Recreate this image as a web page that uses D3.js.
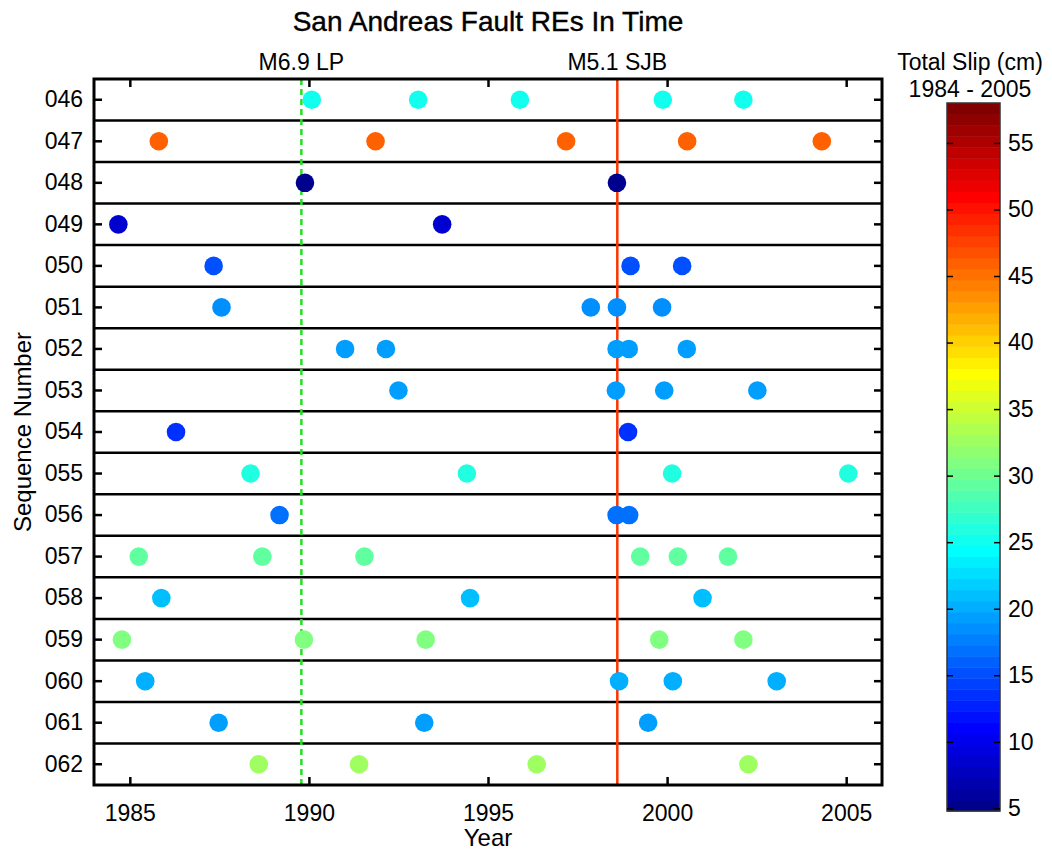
<!DOCTYPE html>
<html>
<head>
<meta charset="utf-8">
<script src="https://cdn.jsdelivr.net/npm/d3@7"></script>
<style>
  body { margin: 0; background: #fff; }
  text { font-family: "Liberation Sans", Arial, Helvetica, sans-serif; fill: #000; }
</style>
</head>
<body>
<svg width="1052" height="856"></svg>
<script>
// sequence ids, top to bottom
const seqIds = ['046','047','048','049','050','051','052','053','054','055','056','057','058','059','060','061','062'];

// total slip (cm) 1984 - 2005, one per sequence
const seqSlip = [24.8, 46.0, 5.6, 8.8, 15.6, 18.8, 19.0, 19.0, 13.8, 25.6, 17.2, 29.4, 21.4, 31.2, 20.0, 19.5, 32.8];

// repeating event times (decimal year) per sequence
const seqYears = [
  [1990.08, 1993.05, 1995.89, 1999.88, 2002.13],
  [1985.81, 1991.86, 1997.18, 2000.56, 2004.32],
  [1989.89, 1998.60],
  [1984.68, 1993.72],
  [1987.34, 1998.98, 2000.42],
  [1987.56, 1997.87, 1998.60, 1999.86],
  [1991.01, 1992.15, 1998.59, 1998.93, 2000.55],
  [1992.50, 1998.57, 1999.92, 2002.52],
  [1986.29, 1998.91],
  [1988.37, 1994.41, 2000.14, 2005.06],
  [1989.18, 1998.59, 1998.94],
  [1985.25, 1988.70, 1991.55, 1999.25, 2000.30, 2001.70],
  [1985.88, 1994.50, 2000.99],
  [1984.78, 1989.86, 1993.26, 1999.78, 2002.13],
  [1985.43, 1998.66, 2000.16, 2003.06],
  [1987.48, 1993.22, 1999.47],
  [1988.60, 1991.40, 1996.36, 2002.27]
];

// earthquakes marked on the plot
const quakeNames = ['M6.9 LP', 'M5.1 SJB'];
const quakeYears = [1989.79, 1998.61];

const yearTicks = [1985, 1990, 1995, 2000, 2005];
const slipTicks = [5, 10, 15, 20, 25, 30, 35, 40, 45, 50, 55];
const slipRange = [4.8, 58];

const svg = d3.select('svg');

const pLeft = 94, pRight = 882, pTop = 79, pBottom = 785;

const x = d3.scaleLinear().domain([1984, 2006]).range([pLeft, pRight]);
const y = d3.scaleBand().domain(seqIds).range([pTop, pBottom]).padding(0);

// matlab jet(64)
const nColors = 64;
const jetU = [];
for (let i = 1; i <= 16; i++) jetU.push(i / 16);
for (let i = 0; i < 15; i++) jetU.push(1);
for (let i = 16; i >= 1; i--) jetU.push(i / 16);
const uAt = j => (j >= 1 && j <= jetU.length) ? jetU[j - 1] : 0;
const jetColors = d3.range(1, nColors + 1).map(k =>
  d3.rgb(uAt(k - 24) * 255, uAt(k - 8) * 255, uAt(k + 8) * 255).toString());

const colorIndex = v => {
  let i = Math.floor((v - slipRange[0]) / (slipRange[1] - slipRange[0]) * nColors);
  return Math.max(0, Math.min(nColors - 1, i));
};
const color = v => jetColors[colorIndex(v)];

// title
svg.append('text')
  .attr('x', (pLeft + pRight) / 2).attr('y', 31)
  .attr('text-anchor', 'middle')
  .style('font-size', '28px')
  .style('stroke', '#000').style('stroke-width', 0.4)
  .text('San Andreas Fault REs In Time');

// row separators
const plot = svg.append('g');
plot.selectAll('line.sep')
  .data(seqIds.slice(1))
  .join('line')
  .attr('class', 'sep')
  .attr('x1', pLeft).attr('x2', pRight)
  .attr('y1', d => y(d)).attr('y2', d => y(d))
  .attr('stroke', '#000').attr('stroke-width', 2.5);

// quake lines
plot.append('line')
  .attr('x1', x(quakeYears[0])).attr('x2', x(quakeYears[0]))
  .attr('y1', pTop).attr('y2', pBottom)
  .attr('stroke', '#22e022').attr('stroke-width', 2.5)
  .attr('stroke-dasharray', '6,4');
plot.append('line')
  .attr('x1', x(quakeYears[1])).attr('x2', x(quakeYears[1]))
  .attr('y1', pTop).attr('y2', pBottom)
  .attr('stroke', '#ff3300').attr('stroke-width', 2.5);

svg.selectAll('text.quake')
  .data(quakeNames)
  .join('text')
  .attr('class', 'quake')
  .attr('x', (d, i) => x(quakeYears[i]))
  .attr('y', 70)
  .attr('text-anchor', 'middle')
  .style('font-size', '23px')
  .text(d => d);

// events
const rows = plot.selectAll('g.row')
  .data(seqIds)
  .join('g')
  .attr('class', 'row')
  .attr('transform', d => `translate(0,${y(d) + y.bandwidth() / 2})`);

rows.selectAll('circle')
  .data((d, i) => seqYears[i].map(t => ({t: t, slip: seqSlip[i]})))
  .join('circle')
  .attr('cx', d => x(d.t))
  .attr('cy', 0)
  .attr('r', 9.3)
  .attr('fill', d => color(d.slip));

// axes, ticks inward
const tickLen = 8;
const axisBottom = d3.axisBottom(x).tickValues(yearTicks).tickFormat(d3.format('d'))
  .tickSizeInner(-tickLen).tickSizeOuter(0).tickPadding(tickLen + 12);
const axisTop = d3.axisTop(x).tickValues(yearTicks).tickFormat('')
  .tickSizeInner(-tickLen).tickSizeOuter(0);
const axisLeft = d3.axisLeft(y).tickSizeInner(-tickLen).tickSizeOuter(0).tickPadding(tickLen + 3);
const axisRight = d3.axisRight(y).tickFormat('').tickSizeInner(-tickLen).tickSizeOuter(0);

const gb = svg.append('g').attr('transform', `translate(0,${pBottom})`).call(axisBottom);
const gt = svg.append('g').attr('transform', `translate(0,${pTop})`).call(axisTop);
const gl = svg.append('g').attr('transform', `translate(${pLeft},0)`).call(axisLeft);
const gr = svg.append('g').attr('transform', `translate(${pRight},0)`).call(axisRight);

[gb, gt, gl, gr].forEach(g => {
  g.select('.domain').remove();
  g.selectAll('.tick line').attr('stroke', '#000').attr('stroke-width', 2.5);
  g.selectAll('.tick text').style('font-size', '23px').attr('fill', '#000');
});

// box
svg.append('rect')
  .attr('x', pLeft).attr('y', pTop)
  .attr('width', pRight - pLeft).attr('height', pBottom - pTop)
  .attr('fill', 'none').attr('stroke', '#000').attr('stroke-width', 3);

// axis labels
svg.append('text')
  .attr('x', (pLeft + pRight) / 2).attr('y', 846)
  .attr('text-anchor', 'middle')
  .style('font-size', '24px')
  .text('Year');

svg.append('text')
  .attr('transform', `translate(31,${(pTop + pBottom) / 2}) rotate(-90)`)
  .attr('text-anchor', 'middle')
  .style('font-size', '24px')
  .text('Sequence Number');

// colorbar
const cbX = 947, cbW = 53, cbTop = 103, cbBottom = 811;
const cy = d3.scaleLinear().domain(slipRange).range([cbBottom, cbTop]);
const step = (slipRange[1] - slipRange[0]) / nColors;
const cb = svg.append('g');
cb.selectAll('rect.band')
  .data(jetColors)
  .join('rect')
  .attr('class', 'band')
  .attr('x', cbX)
  .attr('y', (d, i) => cy(slipRange[0] + (i + 1) * step))
  .attr('width', cbW)
  .attr('height', (d, i) => cy(slipRange[0] + i * step) - cy(slipRange[0] + (i + 1) * step) + 0.5)
  .attr('fill', d => d);

cb.append('rect')
  .attr('x', cbX).attr('y', cbTop)
  .attr('width', cbW).attr('height', cbBottom - cbTop)
  .attr('fill', 'none').attr('stroke', '#333').attr('stroke-width', 1.5);

const cbAxisR = d3.axisRight(cy).tickValues(slipTicks).tickSizeInner(-6).tickSizeOuter(0).tickPadding(8);
const cbAxisL = d3.axisLeft(cy).tickValues(slipTicks).tickFormat('').tickSizeInner(-6).tickSizeOuter(0);
const gcr = cb.append('g').attr('transform', `translate(${cbX + cbW},0)`).call(cbAxisR);
const gcl = cb.append('g').attr('transform', `translate(${cbX},0)`).call(cbAxisL);
[gcr, gcl].forEach(g => {
  g.select('.domain').remove();
  g.selectAll('.tick line').attr('stroke', '#000').attr('stroke-width', 1.5);
  g.selectAll('.tick text').style('font-size', '23px').attr('fill', '#000');
});

svg.append('text')
  .attr('x', 970).attr('y', 70)
  .attr('text-anchor', 'middle')
  .style('font-size', '23px')
  .text('Total Slip (cm)');
svg.append('text')
  .attr('x', 970).attr('y', 97)
  .attr('text-anchor', 'middle')
  .style('font-size', '23px')
  .text('1984 - 2005');
</script>
</body>
</html>
